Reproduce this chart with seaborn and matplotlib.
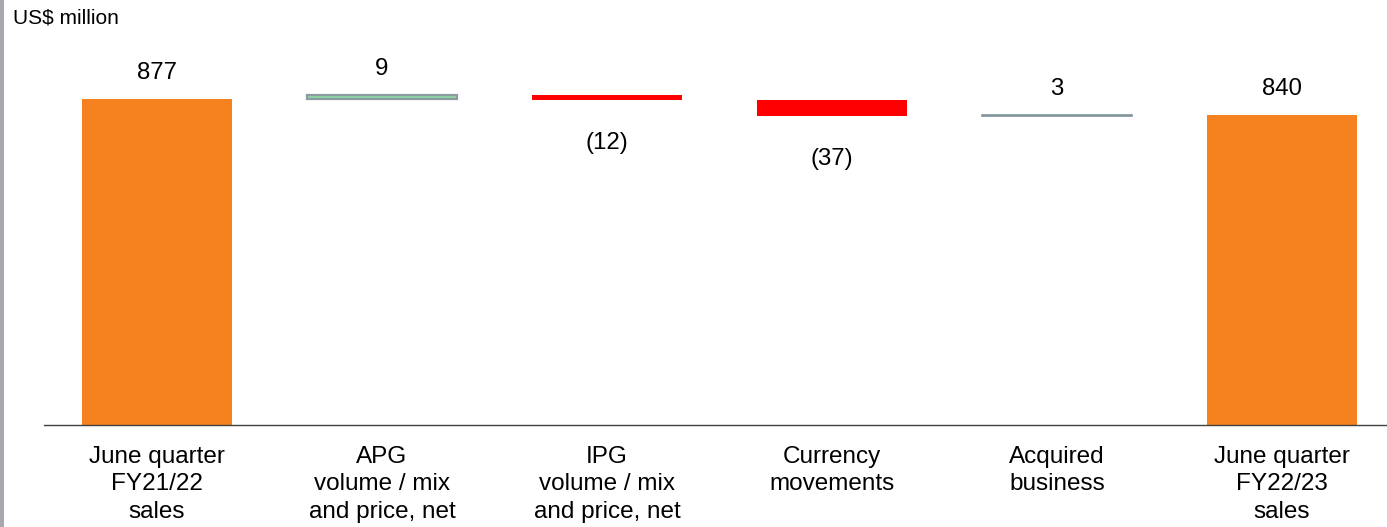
import numpy as np
import pandas as pd
import matplotlib
matplotlib.use("Agg")
import matplotlib.pyplot as plt
from matplotlib.patches import Rectangle
import seaborn as sns

# Sales bridge, US$ million
categories = [
    "June quarter\nFY21/22\nsales",
    "APG\nvolume / mix\nand price, net",
    "IPG\nvolume / mix\nand price, net",
    "Currency\nmovements",
    "Acquired\nbusiness",
    "June quarter\nFY22/23\nsales",
]
values = [877, 9, -12, -37, 3, 840]
value_labels = ["877", "9", "(12)", "(37)", "3", "840"]
is_total = [True, False, False, False, False, True]

# Floating-bar geometry for the waterfall
bases, heights = [], []
running = 0.0
for v, tot in zip(values, is_total):
    if tot:
        bases.append(0.0)
        running = v
    else:
        bases.append(running)
        running += v
    heights.append(v)

df = pd.DataFrame({"category": categories, "height": heights})

sns.set_theme(style="white")
plt.rcParams["font.family"] = ["Liberation Sans", "DejaVu Sans"]

W, H = 1387, 527
fig = plt.figure(figsize=(W / 100, H / 100), dpi=100)
ax = fig.add_axes([44 / W, 1 - 425 / H, 1 - 44 / W, 425 / H])

sns.barplot(data=df, x="category", y="height", bottom=np.array(bases),
            width=0.667, ax=ax, errorbar=None, color="#F5821F")

fills = ["#F5821F", "#8ED8A4", "#FF0000", "#FF0000", "#7F939B", "#F5821F"]
edges = ["none", "#8C9CA1", "none", "none", "#7F939B", "none"]
edge_w = [0, 1.6, 0, 0, 1.2, 0]
for p, fc, ec, lw in zip(ax.patches, fills, edges, edge_w):
    p.set_facecolor(fc)
    p.set_edgecolor(ec)
    p.set_linewidth(lw)

ax.set_ylim(122, 1106)
ax.set_xlim(-0.502, 5.467)

# Value labels: above increases/totals, below decreases
for i, (v, lab) in enumerate(zip(values, value_labels)):
    y = bases[i] + heights[i]
    off = 18.5 if v >= 0 else -31
    ax.annotate(lab, xy=(i, y), xytext=(0, off), textcoords="offset points",
                ha="center", va="center", fontsize=17.3, color="black")

ax.set_xlabel("")
ax.set_ylabel("")
ax.set_yticks([])
ax.tick_params(axis="x", length=0, pad=15, labelsize=17.5, labelcolor="black")
plt.setp(ax.get_xticklabels(), linespacing=1.32)
for s in ["top", "right", "left"]:
    ax.spines[s].set_visible(False)
ax.spines["bottom"].set_color("#404040")
ax.spines["bottom"].set_linewidth(1.0)

fig.text(13 / W, 1 - 18 / H, "US$ million", fontsize=15, ha="left", va="center",
         color="black")

# Grey strip on the left edge
fig.patches.append(Rectangle((0, 0), 4 / W, 1, transform=fig.transFigure,
                             facecolor="#A7A7AE", edgecolor="none", zorder=5))

fig.savefig("out.png", dpi=100, facecolor="white")
